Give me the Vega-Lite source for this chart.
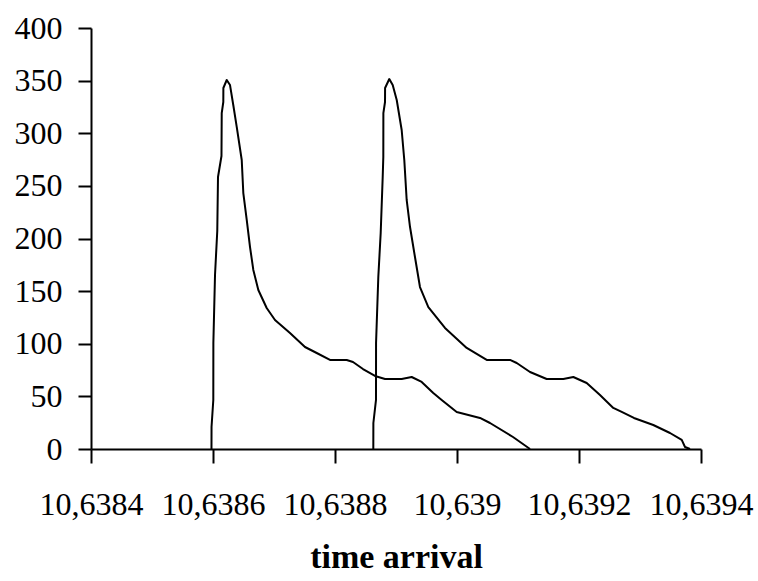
{
  "$schema": "https://vega.github.io/schema/vega-lite/v6.json",
  "width": 610,
  "height": 421,
  "autosize": {"type": "none"},
  "padding": {"left": 91, "top": 28, "right": 57, "bottom": 132},
  "background": "white",
  "config": {
    "view": {"stroke": null},
    "font": "Liberation Serif",
    "axis": {"grid": false, "domainColor": "black", "tickColor": "black", "labelColor": "black", "titleColor": "black", "domainWidth": 2, "tickWidth": 2, "labelFont": "Liberation Serif", "titleFont": "Liberation Serif"}
  },
  "data": {
    "values": [
      {"s": "a", "i": 0, "x": 10.6385975, "y": 0},
      {"s": "a", "i": 1, "x": 10.6385976, "y": 20.9},
      {"s": "a", "i": 2, "x": 10.6386005, "y": 46.6},
      {"s": "a", "i": 3, "x": 10.6386006, "y": 100.7},
      {"s": "a", "i": 4, "x": 10.6386033, "y": 165.3},
      {"s": "a", "i": 5, "x": 10.638607, "y": 207.1},
      {"s": "a", "i": 6, "x": 10.6386082, "y": 258.4},
      {"s": "a", "i": 7, "x": 10.6386139, "y": 278.4},
      {"s": "a", "i": 8, "x": 10.6386143, "y": 319.2},
      {"s": "a", "i": 9, "x": 10.6386169, "y": 329.7},
      {"s": "a", "i": 10, "x": 10.638617, "y": 343},
      {"s": "a", "i": 11, "x": 10.6386225, "y": 350.6},
      {"s": "a", "i": 12, "x": 10.6386279, "y": 345.8},
      {"s": "a", "i": 13, "x": 10.6386333, "y": 326.6},
      {"s": "a", "i": 14, "x": 10.6386389, "y": 306},
      {"s": "a", "i": 15, "x": 10.6386471, "y": 274.6},
      {"s": "a", "i": 16, "x": 10.6386497, "y": 243.2},
      {"s": "a", "i": 17, "x": 10.6386553, "y": 217.6},
      {"s": "a", "i": 18, "x": 10.6386607, "y": 191.9},
      {"s": "a", "i": 19, "x": 10.6386661, "y": 170.1},
      {"s": "a", "i": 20, "x": 10.6386743, "y": 151.1},
      {"s": "a", "i": 21, "x": 10.638688, "y": 134},
      {"s": "a", "i": 22, "x": 10.6387016, "y": 122.6},
      {"s": "a", "i": 23, "x": 10.6387262, "y": 110.2},
      {"s": "a", "i": 24, "x": 10.6387508, "y": 96.9},
      {"s": "a", "i": 25, "x": 10.63877, "y": 91.2},
      {"s": "a", "i": 26, "x": 10.6387918, "y": 84.6},
      {"s": "a", "i": 27, "x": 10.6388192, "y": 84.6},
      {"s": "a", "i": 28, "x": 10.6388295, "y": 82.7},
      {"s": "a", "i": 29, "x": 10.6388459, "y": 76},
      {"s": "a", "i": 30, "x": 10.6388656, "y": 69.4},
      {"s": "a", "i": 31, "x": 10.638882, "y": 66.5},
      {"s": "a", "i": 32, "x": 10.6389093, "y": 66.5},
      {"s": "a", "i": 33, "x": 10.6389257, "y": 68.4},
      {"s": "a", "i": 34, "x": 10.6389421, "y": 63.7},
      {"s": "a", "i": 35, "x": 10.6389611, "y": 53.2},
      {"s": "a", "i": 36, "x": 10.6389749, "y": 46.6},
      {"s": "a", "i": 37, "x": 10.6389995, "y": 35.2},
      {"s": "a", "i": 38, "x": 10.6390377, "y": 29.5},
      {"s": "a", "i": 39, "x": 10.6390541, "y": 24.7},
      {"s": "a", "i": 40, "x": 10.6390918, "y": 11.4},
      {"s": "a", "i": 41, "x": 10.6391197, "y": 0},
      {"s": "b", "i": 0, "x": 10.6388628, "y": 0},
      {"s": "b", "i": 1, "x": 10.6388629, "y": 24.7},
      {"s": "b", "i": 2, "x": 10.6388672, "y": 46.6},
      {"s": "b", "i": 3, "x": 10.6388673, "y": 100.7},
      {"s": "b", "i": 4, "x": 10.638871, "y": 163.4},
      {"s": "b", "i": 5, "x": 10.6388749, "y": 205.2},
      {"s": "b", "i": 6, "x": 10.6388782, "y": 258.4},
      {"s": "b", "i": 7, "x": 10.6388792, "y": 277.4},
      {"s": "b", "i": 8, "x": 10.6388793, "y": 319.2},
      {"s": "b", "i": 9, "x": 10.638882, "y": 329.7},
      {"s": "b", "i": 10, "x": 10.6388821, "y": 343},
      {"s": "b", "i": 11, "x": 10.638889, "y": 351.5},
      {"s": "b", "i": 12, "x": 10.6388946, "y": 345.8},
      {"s": "b", "i": 13, "x": 10.6389012, "y": 331.6},
      {"s": "b", "i": 14, "x": 10.6389093, "y": 303.1},
      {"s": "b", "i": 15, "x": 10.6389136, "y": 274.6},
      {"s": "b", "i": 16, "x": 10.6389175, "y": 236.6},
      {"s": "b", "i": 17, "x": 10.638923, "y": 210.9},
      {"s": "b", "i": 18, "x": 10.6389311, "y": 182.4},
      {"s": "b", "i": 19, "x": 10.6389393, "y": 153.9},
      {"s": "b", "i": 20, "x": 10.638953, "y": 134.9},
      {"s": "b", "i": 21, "x": 10.6389803, "y": 115},
      {"s": "b", "i": 22, "x": 10.6390159, "y": 96},
      {"s": "b", "i": 23, "x": 10.6390487, "y": 84.6},
      {"s": "b", "i": 24, "x": 10.6390869, "y": 84.6},
      {"s": "b", "i": 25, "x": 10.6390979, "y": 81.7},
      {"s": "b", "i": 26, "x": 10.6391197, "y": 73.2},
      {"s": "b", "i": 27, "x": 10.639147, "y": 66.5},
      {"s": "b", "i": 28, "x": 10.6391743, "y": 66.5},
      {"s": "b", "i": 29, "x": 10.6391907, "y": 68.4},
      {"s": "b", "i": 30, "x": 10.6392126, "y": 62.7},
      {"s": "b", "i": 31, "x": 10.6392344, "y": 51.3},
      {"s": "b", "i": 32, "x": 10.6392562, "y": 39},
      {"s": "b", "i": 33, "x": 10.63927, "y": 35.2},
      {"s": "b", "i": 34, "x": 10.63929, "y": 29.5},
      {"s": "b", "i": 35, "x": 10.6393218, "y": 22.8},
      {"s": "b", "i": 36, "x": 10.6393492, "y": 15.2},
      {"s": "b", "i": 37, "x": 10.6393684, "y": 8.6},
      {"s": "b", "i": 38, "x": 10.6393738, "y": 1.9},
      {"s": "b", "i": 39, "x": 10.639382, "y": 0}
    ]
  },
  "mark": {"type": "line", "strokeWidth": 2, "strokeJoin": "round", "clip": false},
  "encoding": {
    "x": {
      "field": "x",
      "type": "quantitative",
      "scale": {"domain": [10.6384, 10.6394], "zero": false, "nice": false},
      "axis": {
        "values": [10.6384, 10.6386, 10.6388, 10.639, 10.6392, 10.6394],
        "labelExpr": "replace(format(datum.value, '.5~f'), '.', ',')",
        "labelFontSize": 32,
        "tickSize": 14,
        "labelPadding": 26,
        "title": "time arrival",
        "titleFontSize": 34,
        "titleFontWeight": "bold",
        "titlePadding": 20,
        "labelOverlap": false,
        "labelFlush": false
      }
    },
    "y": {
      "field": "y",
      "type": "quantitative",
      "scale": {"domain": [0, 400], "nice": false},
      "axis": {
        "values": [0, 50, 100, 150, 200, 250, 300, 350, 400],
        "labelFontSize": 32,
        "tickSize": 13,
        "labelPadding": 16,
        "title": null,
        "labelOverlap": false,
        "labelFlush": false
      }
    },
    "detail": {"field": "s"},
    "order": {"field": "i", "type": "quantitative"},
    "color": {"value": "black"}
  }
}
